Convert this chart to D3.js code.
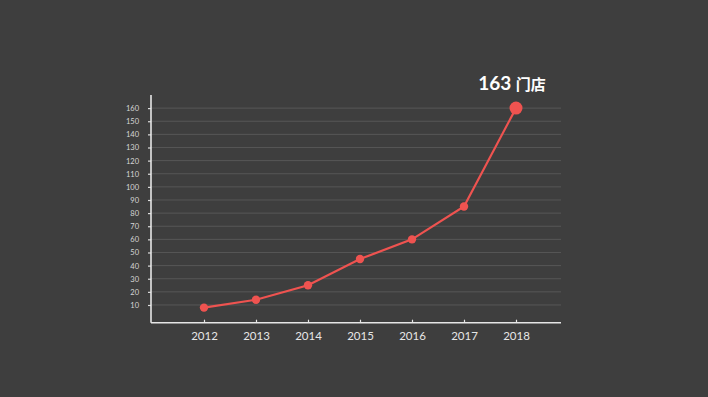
<!DOCTYPE html>
<html>
<head>
<meta charset="utf-8">
<script src="https://cdn.jsdelivr.net/npm/d3@7"></script>
<style>
  html, body { margin: 0; padding: 0; background: #3e3e3e; }
  svg { display: block; }
  .tick text { font-family: "Lato", "Noto Sans", sans-serif; }
</style>
</head>
<body>
<div id="chart"></div>
<script>
const years = ["2012", "2013", "2014", "2015", "2016", "2017", "2018"];
const stores = [8, 14, 25, 45, 60, 85, 160];
const yTicks = [10, 20, 30, 40, 50, 60, 70, 80, 90, 100, 110, 120, 130, 140, 150, 160];
const headline = ["163", "门店"];

const width = 708, height = 397;
const lineColor = "#ef5350";

const svg = d3.select("#chart").append("svg")
  .attr("width", width)
  .attr("height", height);

svg.append("rect").attr("width", width).attr("height", height).attr("fill", "#3e3e3e");

// scales
const x = d3.scalePoint().domain(years).range([204, 516]);
const y = d3.scaleLinear().domain([-3.5, 170]).range([322.7, 95]);

const left = 151, right = 561;

// grid
svg.append("g")
  .selectAll("line")
  .data(yTicks)
  .join("line")
  .attr("x1", left)
  .attr("x2", right)
  .attr("y1", d => y(d))
  .attr("y2", d => y(d))
  .attr("stroke", "#575757")
  .attr("stroke-width", 1);

// y axis
const yAxis = svg.append("g")
  .attr("transform", `translate(${left},0)`)
  .call(d3.axisLeft(y).tickValues(yTicks).tickSize(3).tickPadding(9));
yAxis.select(".domain").remove();
yAxis.selectAll(".tick line").attr("stroke", "#dddddd").attr("stroke-width", 1.2);
yAxis.selectAll(".tick text").attr("fill", "#d6d6d6").attr("font-size", 7.5);

svg.append("line")
  .attr("x1", left).attr("x2", left)
  .attr("y1", y(170)).attr("y2", y(-3.5))
  .attr("stroke", "#e6e6e6").attr("stroke-width", 1.6);

// x axis
const xAxis = svg.append("g")
  .attr("transform", `translate(0,${y(-3.5)})`)
  .call(d3.axisBottom(x).tickSize(-3).tickPadding(9));
xAxis.select(".domain").remove();
xAxis.selectAll(".tick line").attr("stroke", "#e6e6e6").attr("stroke-width", 1.2);
xAxis.selectAll(".tick text").attr("fill", "#e6e6e6").attr("font-size", 11.5).attr("dy", "0.75em");

svg.append("line")
  .attr("x1", left).attr("x2", right)
  .attr("y1", y(-3.5)).attr("y2", y(-3.5))
  .attr("stroke", "#e6e6e6").attr("stroke-width", 1.6);

// line
const line = d3.line()
  .x((d, i) => x(years[i]))
  .y(d => y(d));

svg.append("path")
  .datum(stores)
  .attr("d", line)
  .attr("fill", "none")
  .attr("stroke", lineColor)
  .attr("stroke-width", 2.2);

svg.append("g")
  .selectAll("circle")
  .data(stores)
  .join("circle")
  .attr("cx", (d, i) => x(years[i]))
  .attr("cy", d => y(d))
  .attr("r", (d, i) => i === stores.length - 1 ? 6.5 : 4.2)
  .attr("fill", lineColor);

// headline label
const last = stores[stores.length - 1];
const label = svg.append("text")
  .attr("x", x(years[years.length - 1]) - 4)
  .attr("y", y(last) - 18)
  .attr("text-anchor", "middle")
  .attr("fill", "#ffffff")
  .attr("font-weight", "bold");
label.append("tspan")
  .attr("font-family", "Lato, 'Noto Sans', sans-serif")
  .attr("font-size", 19)
  .text(headline[0] + " ");
label.append("tspan")
  .attr("font-family", "'Noto Sans CJK SC', sans-serif")
  .attr("font-size", 15)
  .text(headline[1]);
</script>
</body>
</html>
